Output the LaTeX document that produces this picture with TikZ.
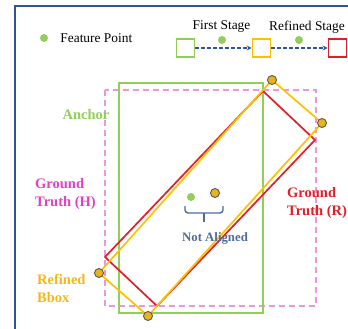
\documentclass[tikz,border=0pt]{standalone}
\usepackage{fontspec}
\setmainfont{Liberation Serif}
\usepackage{tikz}
\usetikzlibrary{arrows.meta, positioning}

\definecolor{anchorgreen}{RGB}{146,206,88}
\definecolor{refyellow}{RGB}{255,192,0}
\definecolor{dotyellow}{RGB}{232,180,30}
\definecolor{gtred}{RGB}{226,30,40}
\definecolor{gtpink}{RGB}{236,150,224}
\definecolor{txtpink}{RGB}{226,64,196}
\definecolor{txtyellow}{RGB}{245,184,20}
\definecolor{arrowblue}{RGB}{47,85,151}
\definecolor{slateblue}{RGB}{78,108,156}

\tikzset{
    featdot/.style={circle, fill=anchorgreen, inner sep=0pt, minimum size=8pt},
    cornerdot/.style={circle, fill=dotyellow, draw=black!65, line width=0.9pt, inner sep=0pt, minimum size=9pt},
    stagebox/.style={draw, line width=1.6pt, minimum size=18pt, inner sep=0pt},
    stagearrow/.style={arrowblue, line width=1.5pt, dash pattern=on 4pt off 2pt, -{Stealth[length=5pt,width=5pt]}},
    lbl/.style={font=\fontsize{14.5}{18}\selectfont\bfseries, align=left, inner sep=0pt}
}

\begin{document}
\begin{tikzpicture}[x=1pt, y=-1pt, font=\fontsize{13.4}{16}\selectfont]
    \useasboundingbox (0,0) rectangle (348,329);
    \clip (0,0) rectangle (348,329);

    % outer frame
    \draw[arrowblue, line width=1.8pt] (15,340) -- (15,6) -- (360,6);

    % legend
    \node[featdot] (legdot) at (44,38) {};
    \node[right=12pt of legdot, inner sep=0pt] (legtxt) {Feature Point};

    \node[stagebox, draw=anchorgreen] (sfirst) at (185.5,48) {};
    \node[stagebox, draw=refyellow] (srefined) at (261.5,48) {};
    \node[stagebox, draw=gtred] (sfinal) at (337.5,48) {};
    \draw[stagearrow] (sfirst) -- (srefined);
    \draw[stagearrow] (srefined) -- (sfinal);
    \node[featdot] (dfirst) at (222,40) {};
    \node[featdot] (drefined) at (299,40) {};
    \node (tfirst) at (221.5,27) {First Stage};
    \node (trefined) at (307,27) {Refined Stage};

    % ground truth (H), dashed
    \draw[gtpink, line width=1.5pt, dash pattern=on 6pt off 4pt] (105,90) rectangle (316,306);

    % anchor
    \draw[anchorgreen, line width=1.8pt] (119,83) rectangle (263,313);

    % ground truth (R)
    \coordinate (rtop) at (263,91);
    \coordinate (rright) at (315,140);
    \coordinate (rbottom) at (157,306);
    \coordinate (rleft) at (105,257);
    \draw[gtred, line width=1.7pt] (rtop) -- (rright) -- (rbottom) -- (rleft) -- cycle;

    % refined bbox
    \coordinate (ytop) at (272,80);
    \coordinate (yright) at (322,123);
    \coordinate (ybottom) at (148,316);
    \coordinate (yleft) at (99,273);
    \draw[refyellow, line width=1.7pt] (ytop) -- (yright) -- (ybottom) -- (yleft) -- cycle;
    \foreach \c in {ytop, yright, ybottom, yleft}
        \node[cornerdot] at (\c) {};

    % feature points
    \node[featdot] (fanchor) at (191,197) {};
    \node[cornerdot] (frefined) at (215,193) {};
    \draw[slateblue, line width=1.4pt, rounded corners=3pt]
        (185,206) -- (185,213) -- (223,213) -- (223,206);
    \draw[slateblue, line width=1.4pt] (204,213) -- (204,222);
    \node[lbl, font=\fontsize{12.8}{15}\selectfont\bfseries, text=slateblue] (notal) at (215,238) {Not Aligned};

    % labels
    \node[lbl, text=anchorgreen] (tanchor) at (86,115) {Anchor};
    \node[lbl, text=txtpink, anchor=west] (tgth) at (35,194) {Ground\\Truth (H)};
    \node[lbl, text=gtred, anchor=west] (tgtr) at (287,203) {Ground\\Truth (R)};
    \node[lbl, text=txtyellow, anchor=west] (tref) at (37,288) {Refined\\Bbox};
\end{tikzpicture}
\end{document}
